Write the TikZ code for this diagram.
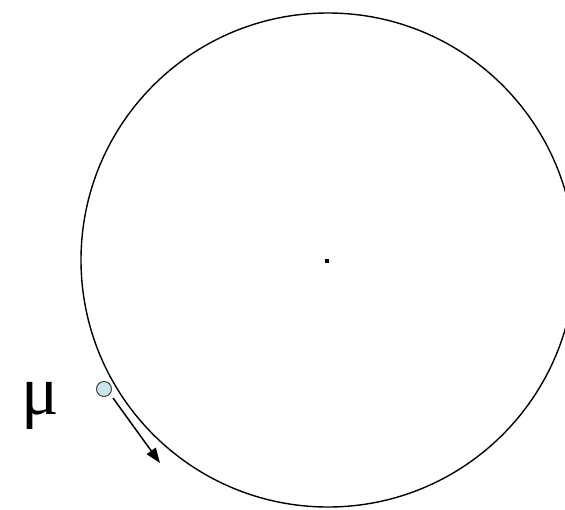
\documentclass[tikz,border=0pt]{standalone}
\usepackage{fontspec}
\setmainfont{Liberation Serif}
\usetikzlibrary{arrows.meta}
\begin{document}
\begin{tikzpicture}[x=1pt,y=1pt,
  orbit/.style={draw=black,line width=1.4pt},
  particle/.style={circle,draw=black!75,line width=1pt,fill={rgb,255:red,198;green,230;blue,234},minimum size=15pt,inner sep=0pt},
  motion/.style={line width=1.5pt,-{Triangle[length=15pt,width=11pt]}}]
\useasboundingbox (0,0) rectangle (565,-509);
\begin{scope}
\clip (0,0) rectangle (565,-509);
\draw[orbit] (328,-260) circle[radius=247];
\end{scope}
\fill (324.5,-258.5) rectangle (329,-263);
\node[particle] (p) at (104,-389) {};
\coordinate (s) at (113,-398);
\coordinate (e) at (160,-463);
\draw[motion] (s) -- (e);
\node[anchor=base,inner sep=0pt,font=\fontsize{70}{74}\selectfont] (mu) at (40,-414) {μ};
\end{tikzpicture}
\end{document}
